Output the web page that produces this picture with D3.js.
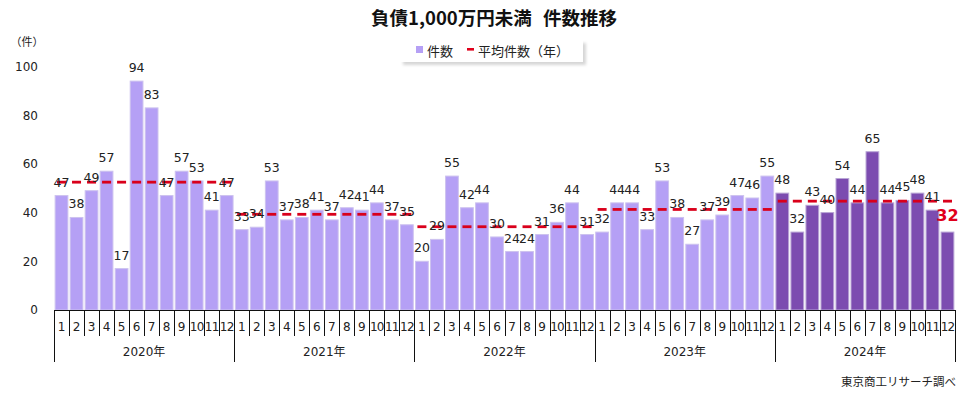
<!DOCTYPE html>
<html><head><meta charset="utf-8">
<script src="https://cdn.jsdelivr.net/npm/d3@7/dist/d3.min.js"></script>
<style>
html,body{margin:0;padding:0;background:#fff;}
svg{display:block;}
</style></head>
<body>
<svg id="chart" width="965" height="394"></svg>
<script>
const years = ["2020年","2021年","2022年","2023年","2024年"];
const months = ["1","2","3","4","5","6","7","8","9","10","11","12"];
const counts2020 = [47,38,49,57,17,94,83,47,57,53,41,47];
const counts2021 = [33,34,53,37,38,41,37,42,41,44,37,35];
const counts2022 = [20,29,55,42,44,30,24,24,31,36,44,31];
const counts2023 = [32,44,44,33,53,38,27,37,39,47,46,55];
const counts2024 = [48,32,43,40,54,44,65,44,45,48,41,32];
const yearAverages = [52.5,39.3,34.2,41.3,44.7];
const yTicks = [0,20,40,60,80,100];
const titleText = "負債1,000万円未満 件数推移";
const legendLabels = ["件数","平均件数（年）"];
const unitLabel = "（件）";
const sourceText = "東京商工リサーチ調べ";

const allCounts = [counts2020,counts2021,counts2022,counts2023,counts2024];
const data = [];
allCounts.forEach((arr, yi) => arr.forEach((v, mi) => data.push({yi, mi, v, idx: yi*12+mi, avg: yearAverages[yi]})));

const svg = d3.select("#chart");
const numFont = "'DejaVu Sans', Verdana, sans-serif";
const jpFont = "'DejaVu Sans','Noto Sans CJK JP', sans-serif";

const x = d3.scaleBand().domain(d3.range(data.length)).range([54,955]).paddingInner(0.15).paddingOuter(0.075);
const y = d3.scaleLinear().domain([0,100]).range([310,66.5]);
const step = x.step();
const left = 54;

// title
svg.append("text").attr("x",494).attr("y",25).attr("text-anchor","middle")
  .attr("font-family","'Noto Sans CJK JP', sans-serif").attr("font-weight","bold").attr("font-size",18.5)
  .attr("word-spacing",7)
  .attr("fill","#111").text(titleText);

// legend
const defs = svg.append("defs");
defs.append("filter").attr("id","blur").append("feGaussianBlur").attr("stdDeviation",1.5);
const lg = svg.append("g");
lg.append("rect").attr("x",403).attr("y",43).attr("width",183).attr("height",22).attr("fill","#bbb").attr("opacity",0.6).attr("filter","url(#blur)");
lg.append("rect").attr("x",400).attr("y",40).attr("width",183).attr("height",22).attr("fill","#fff");
lg.append("rect").attr("x",416).attr("y",46).attr("width",7).attr("height",7).attr("fill","#b5a0f5");
lg.append("text").attr("x",427).attr("y",56).attr("font-family",jpFont).attr("font-size",13).attr("fill","#222").text(legendLabels[0]);
lg.append("rect").attr("x",467).attr("y",48).attr("width",7).attr("height",2.6).attr("fill","#e0001b");
lg.append("text").attr("x",478).attr("y",56).attr("font-family",jpFont).attr("font-size",13).attr("fill","#222").text(legendLabels[1]);

// unit label
svg.append("text").attr("x",27).attr("y",46).attr("text-anchor","middle").attr("font-family",jpFont).attr("font-size",11).attr("fill","#222").text(unitLabel);

// y axis labels
const yAxis = d3.axisLeft(y).tickValues(yTicks).tickSize(0).tickPadding(0);
const yg = svg.append("g").attr("transform","translate(38,0)").call(yAxis);
yg.select(".domain").remove();
yg.selectAll("text").attr("font-family",numFont).attr("font-size",12).attr("fill","#222");

// bars
svg.append("g").selectAll("rect").data(data).join("rect")
  .attr("x",d=>x(d.idx)).attr("width",x.bandwidth())
  .attr("y",d=>y(d.v)).attr("height",d=>y(0)-y(d.v))
  .attr("fill",d=>d.yi===4?"#7c4cb0":"#b5a0f5")
  .attr("stroke",d=>d.yi===4?"#b9a6d6":"#cdc2ef").attr("stroke-width",1);

// average markers (dash)
svg.append("g").selectAll("rect").data(data).join("rect")
  .attr("x",d=>x(d.idx)+x.bandwidth()/2-4.5).attr("width",9)
  .attr("y",d=>y(d.avg)-1.4).attr("height",2.8)
  .attr("fill","#d9001b");

// value labels
svg.append("g").selectAll("text").data(data).join("text")
  .attr("x",d=>x(d.idx)+x.bandwidth()/2)
  .attr("y",d=>y(d.v)-(d.idx===data.length-1?11:9))
  .attr("text-anchor","middle")
  .attr("font-family",numFont)
  .attr("font-size",d=>d.idx===data.length-1?16:12.5)
  .attr("font-weight",d=>d.idx===data.length-1?"bold":"normal")
  .attr("fill",d=>d.idx===data.length-1?"#e0001b":"#222")
  .text(d=>d.v);

// x axis
const ax = svg.append("g").attr("stroke","#111").attr("stroke-width",1);
ax.append("line").attr("x1",left).attr("x2",955).attr("y1",310.5).attr("y2",310.5);
d3.range(data.length+1).forEach(i=>{
  const xx = Math.round(left + i*step)+0.5;
  const isYear = i%12===0;
  ax.append("line").attr("x1",xx).attr("x2",xx).attr("y1",310).attr("y2",isYear?362:336);
});
svg.append("g").selectAll("text").data(data).join("text")
  .attr("x",d=>x(d.idx)+x.bandwidth()/2).attr("y",331)
  .attr("text-anchor","middle").attr("font-family",numFont).attr("font-size",12)
  .attr("letter-spacing",d=>months[d.mi].length>1?"-0.8":"0")
  .attr("fill","#222").text(d=>months[d.mi]);
svg.append("g").selectAll("text").data(years).join("text")
  .attr("x",(d,i)=>left + (i*12+6)*step).attr("y",356)
  .attr("text-anchor","middle").attr("font-family",jpFont).attr("font-size",12)
  .attr("fill","#222").text(d=>d);

// source
svg.append("text").attr("x",956).attr("y",386).attr("text-anchor","end").attr("font-family","'Noto Sans CJK JP', sans-serif").attr("font-size",11.5).attr("fill","#222").text(sourceText);
</script>
</body></html>
